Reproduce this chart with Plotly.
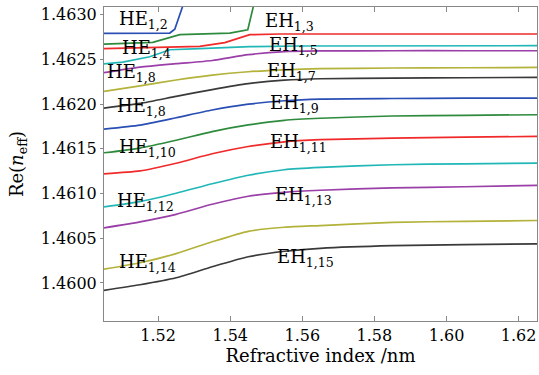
import plotly.graph_objects as go

# ---- data ----
# upper modes (with kinks / cut-off at the top)
x1 = [1.505, 1.520, 1.52325, 1.52463, 1.52900]
y1 = [1.462791, 1.462793, 1.462795, 1.462837, 1.463350]

x2 = [1.505, 1.51853, 1.52602, 1.53989, 1.54488, 1.54821]
y2 = [1.462672, 1.462690, 1.462776, 1.462795, 1.462832, 1.463392]

x3 = [1.505, 1.53157, 1.53850, 1.54266, 1.54544, 1.55376, 1.6251]
y3 = [1.462620, 1.462645, 1.462687, 1.462743, 1.462776, 1.462784, 1.462784]

x4 = [1.505, 1.51021, 1.51770, 1.52325, 1.53157, 1.54544, 1.55931, 1.6251]
y4 = [1.462449, 1.462469, 1.462530, 1.462608, 1.462620, 1.462642, 1.462650, 1.462653]

# smooth lower modes sampled on a common grid
xg = [1.505, 1.515, 1.525, 1.535, 1.545, 1.555, 1.565, 1.585, 1.605, 1.6251]
y5 = [1.462351, 1.462413, 1.462452, 1.462488, 1.462553, 1.462588, 1.462595, 1.462597, 1.462597, 1.462597]
y6 = [1.462142, 1.462204, 1.462270, 1.462325, 1.462362, 1.462384, 1.462396, 1.462404, 1.462407, 1.462410]
y7 = [1.461956, 1.462008, 1.462087, 1.462163, 1.462230, 1.462268, 1.462284, 1.462291, 1.462295, 1.462299]
y8 = [1.461721, 1.461766, 1.461848, 1.461934, 1.461999, 1.462038, 1.462057, 1.462063, 1.462066, 1.462068]
y9 = [1.461456, 1.461509, 1.461596, 1.461693, 1.461767, 1.461819, 1.461842, 1.461867, 1.461875, 1.461881]
y10 = [1.461221, 1.461253, 1.461339, 1.461445, 1.461526, 1.461579, 1.461602, 1.461619, 1.461630, 1.461639]
y11 = [1.460852, 1.460910, 1.461003, 1.461110, 1.461205, 1.461266, 1.461292, 1.461322, 1.461333, 1.461341]
y12 = [1.460617, 1.460684, 1.460768, 1.460880, 1.460970, 1.461014, 1.461037, 1.461063, 1.461076, 1.461091]
y13 = [1.460155, 1.460226, 1.460329, 1.460461, 1.460578, 1.460623, 1.460642, 1.460678, 1.460690, 1.460699]
y14 = [1.459918, 1.459980, 1.460058, 1.460181, 1.460293, 1.460355, 1.460388, 1.460418, 1.460429, 1.460438]

mode_x = [x1, x2, x3, x4] + [xg] * 10
mode_y = [y1, y2, y3, y4, y5, y6, y7, y8, y9, y10, y11, y12, y13, y14]

# mode labels (text as printed in the figure)
label_text = ["HE<sub>1,2</sub>", "EH<sub>1,3</sub>", "HE<sub>1,4</sub>", "EH<sub>1,5</sub>",
              "HE<sub>1,8</sub>", "EH<sub>1,7</sub>", "HE<sub>1,8</sub>", "EH<sub>1,9</sub>",
              "HE<sub>1,10</sub>", "EH<sub>1,11</sub>", "HE<sub>1,12</sub>", "EH<sub>1,13</sub>",
              "HE<sub>1,14</sub>", "EH<sub>1,15</sub>"]

x_ticks = [1.52, 1.54, 1.56, 1.58, 1.60, 1.62]
y_ticks = [1.4600, 1.4605, 1.4610, 1.4615, 1.4620, 1.4625, 1.4630]

# ---- styles / positions ----
colors = ["#2a4fb4", "#2e8a3c", "#f02a2a", "#22b7b7", "#9a3ea8", "#b3b23a", "#3a3a3a"]
smooth = [False] * 4 + [True] * 10
label_x = [1.50854, 1.54904, 1.50938, 1.55015, 1.50521, 1.54960, 1.50799, 1.55043,
           1.50854, 1.55043, 1.50799, 1.55182, 1.50854, 1.55237]
label_y = [1.462938, 1.462916, 1.462620, 1.462653, 1.462346, 1.462357, 1.461965, 1.462004,
           1.461507, 1.461568, 1.460908, 1.460970, 1.460226, 1.460282]

FONT = "DejaVu Serif"

fig = go.Figure()
for i, (xs, ys) in enumerate(zip(mode_x, mode_y)):
    fig.add_trace(go.Scatter(
        x=xs, y=ys, mode="lines",
        line=dict(color=colors[i % 7], width=1.7,
                  shape="spline" if smooth[i] else "linear", smoothing=0.6),
        showlegend=False, hoverinfo="skip"))

for t, lx, ly in zip(label_text, label_x, label_y):
    fig.add_annotation(x=lx, y=ly, text=t, showarrow=False, xanchor="left",
                       yanchor="middle", font=dict(family=FONT, size=18, color="black"))

fig.update_layout(
    width=539, height=375,
    margin=dict(l=104, r=2, t=7, b=54),
    paper_bgcolor="white", plot_bgcolor="white",
    font=dict(family=FONT, size=16, color="black"),
    showlegend=False,
)
fig.update_xaxes(
    range=[1.505, 1.6251], tickvals=x_ticks, tickformat=".2f",
    ticks="inside", ticklen=5, tickcolor="#888", showgrid=False, zeroline=False,
    showline=True, linecolor="#888", linewidth=1, mirror="ticks",
    title=dict(text="Refractive index /nm", font=dict(family=FONT, size=18, color="black"), standoff=3),
    tickfont=dict(family=FONT, size=16),
)
fig.update_yaxes(
    range=[1.459575, 1.463086], tickvals=y_ticks, tickformat=".4f",
    ticks="outside", ticklen=3, tickcolor="#888", showgrid=False, zeroline=False,
    showline=True, linecolor="#888", linewidth=1, mirror=True,
    title=dict(text="Re(<i>n</i><sub>eff</sub>)", font=dict(family=FONT, size=18, color="black"), standoff=12),
    tickfont=dict(family=FONT, size=16),
)

fig.write_html("out.html")
